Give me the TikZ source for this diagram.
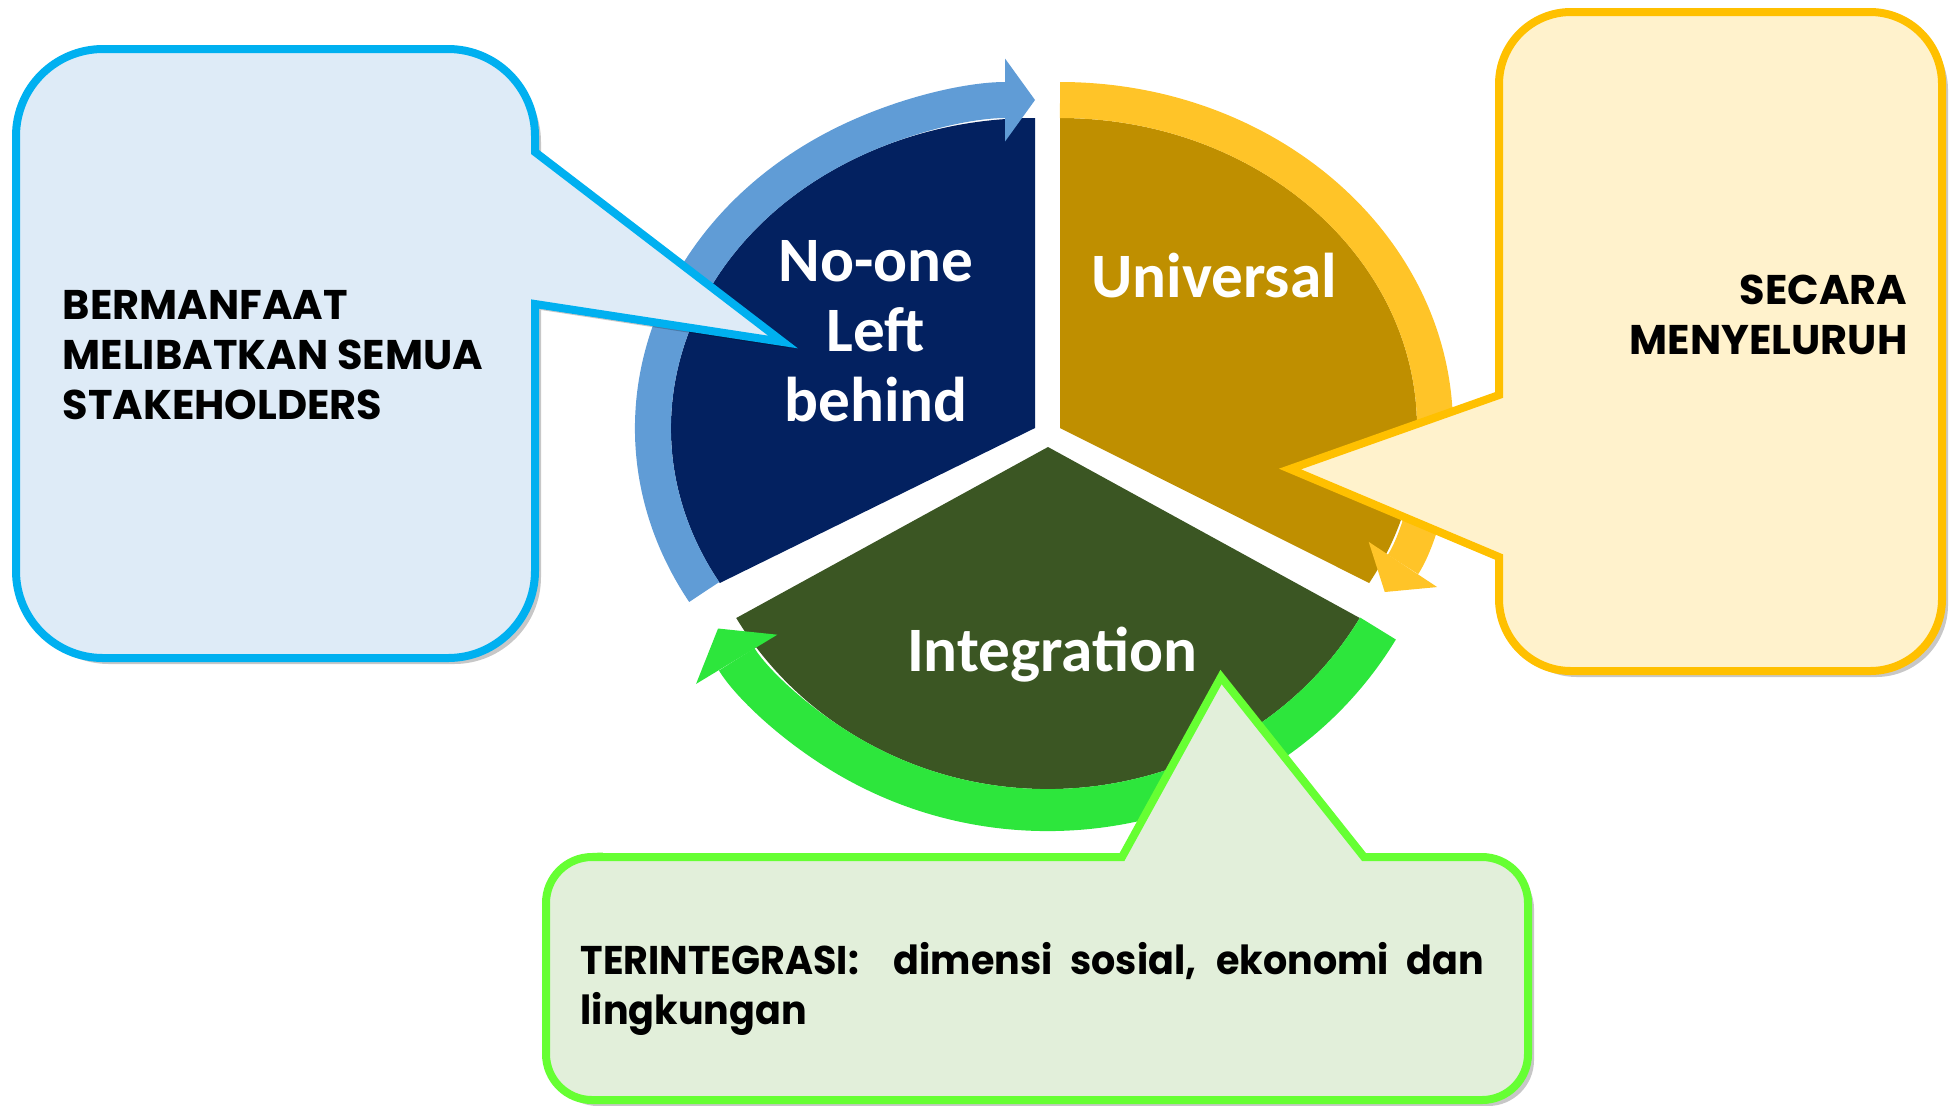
\documentclass[tikz,border=0pt]{standalone}
\usepackage{fontspec}
\setmainfont{Poppins}
\newfontfamily\labelfont{Carlito}
\newfontfamily\narrowfont{Poppins}[FakeStretch=0.95]
\usepackage{tikz}
\usetikzlibrary{arrows.meta}

\definecolor{navyfill}{RGB}{3,33,96}
\definecolor{bluering}{RGB}{96,156,214}
\definecolor{goldfill}{RGB}{191,143,0}
\definecolor{goldring}{RGB}{255,196,40}
\definecolor{olivefill}{RGB}{59,86,35}
\definecolor{greenring}{RGB}{45,230,60}
\definecolor{cyanline}{RGB}{0,176,240}
\definecolor{cyanbg}{RGB}{222,235,247}
\definecolor{amberline}{RGB}{255,192,0}
\definecolor{amberbg}{RGB}{255,242,204}
\definecolor{limeline}{RGB}{102,255,51}
\definecolor{limebg}{RGB}{226,239,218}

\tikzset{
    callout/.style={line width=0.08cm, preaction={fill=black, opacity=0.22, transform canvas={xshift=0.06cm, yshift=-0.06cm}}},
    sectorlabel/.style={text=white, align=center, inner sep=0pt, font={\labelfont\bfseries\fontsize{18pt}{19.9pt}\selectfont}},
    callouttext/.style={text=black, inner sep=0pt, font={\bfseries\fontsize{11.8pt}{14.2pt}\selectfont}}
}

\begin{document}
\begin{tikzpicture}

        \useasboundingbox (0,0) rectangle (19.49,-11.05);

        \coordinate (B) at (10.35,-4.28);
        \coordinate (Y) at (10.60,-4.28);
        \coordinate (G) at (10.48,-4.47);

        % sectors
        \fill [navyfill] (B) -- ++(210:3.64 and 3.10) arc[start angle=210, end angle=90, x radius=3.64, y radius=3.10] -- cycle;
        \fill [goldfill] (Y) -- ++(90:3.57 and 3.10) arc[start angle=90, end angle=-30, x radius=3.57, y radius=3.10] -- cycle;
        \fill [olivefill] (G) -- ++(-30:3.60 and 3.42) arc[start angle=-30, end angle=-150, x radius=3.60, y radius=3.42] -- cycle;

        % ring arrows
        \draw [bluering, line width=0.36cm, -{Triangle[length=0.30cm, width=0.83cm, line width=0pt]}] (B) ++(210:3.82 and 3.28) arc[start angle=210, end angle=90, x radius=3.82, y radius=3.28];
        \draw [goldring, line width=0.36cm, -{Triangle[length=0.33cm, width=0.82cm, line width=0pt]}] (Y) ++(90:3.75 and 3.28) arc[start angle=90, end angle=-30, x radius=3.75, y radius=3.28];
        \draw [greenring, line width=0.42cm, -{Triangle[length=0.36cm, width=0.95cm, line width=0pt]}] (G) ++(-30:3.81 and 3.63) arc[start angle=-30, end angle=-150, x radius=3.81, y radius=3.63];

        \node [sectorlabel] (noone) at (8.76,-3.31) {No-one\\Left\\behind};
        \node [sectorlabel] (universal) at (12.14,-2.76) {Universal};
        \node [sectorlabel] (integration) at (10.52,-6.55) {Integration};

        % callouts
        \filldraw [callout, draw=cyanline, fill=cyanbg] (1.03,-0.49) -- (4.48,-0.49) arc[start angle=90, end angle=0, radius=0.87]
                -- (5.35,-1.52) -- (7.83,-3.42) -- (5.35,-3.04)
                -- (5.35,-5.71) arc[start angle=0, end angle=-90, radius=0.87]
                -- (1.03,-6.58) arc[start angle=270, end angle=180, radius=0.87]
                -- (0.16,-1.36) arc[start angle=180, end angle=90, radius=0.87] -- cycle;

        \filldraw [callout, draw=amberline, fill=amberbg] (15.71,-0.12) -- (18.70,-0.12) arc[start angle=90, end angle=0, radius=0.72]
                -- (19.42,-5.99) arc[start angle=0, end angle=-90, radius=0.72]
                -- (15.71,-6.71) arc[start angle=270, end angle=180, radius=0.72]
                -- (14.99,-5.57) -- (12.90,-4.69) -- (14.99,-3.95)
                -- (14.99,-0.84) arc[start angle=180, end angle=90, radius=0.72] -- cycle;

        \filldraw [callout, draw=limeline, fill=limebg] (5.92,-8.57) -- (11.22,-8.57) -- (12.21,-6.77) -- (13.64,-8.57)
                -- (14.82,-8.57) arc[start angle=90, end angle=0, radius=0.46]
                -- (15.28,-10.54) arc[start angle=0, end angle=-90, radius=0.46]
                -- (5.92,-11.00) arc[start angle=270, end angle=180, radius=0.46]
                -- (5.46,-9.03) arc[start angle=180, end angle=90, radius=0.46] -- cycle;

        \node [callouttext, align=left, anchor=north west] (bermanfaat) at (0.62,-2.90) {BERMANFAAT\\MELIBATKAN SEMUA\\STAKEHOLDERS};
        \node [callouttext, align=right, anchor=north east] (secara) at (19.08,-2.74) {SECARA\\MENYELURUH};
        \node [callouttext, align=left, anchor=north west, font={\narrowfont\bfseries\fontsize{11.4pt}{14.2pt}\selectfont}] (terintegrasi) at (5.80,-9.42)
                {\makebox[9.03cm][s]{TERINTEGRASI:\ \ dimensi sosial, ekonomi dan}\\lingkungan};

\end{tikzpicture}
\end{document}
